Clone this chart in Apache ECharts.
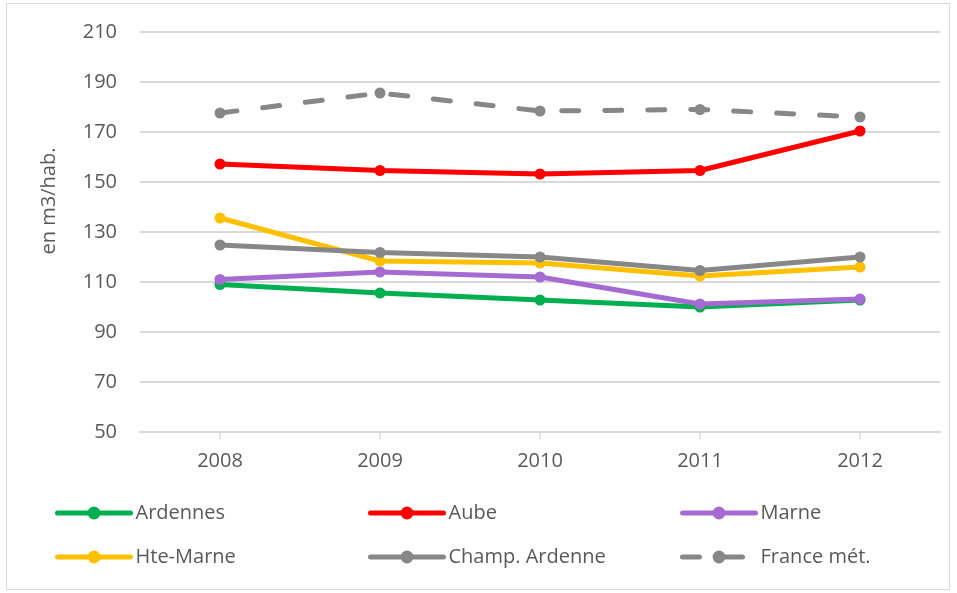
<!DOCTYPE html>
<html>
<head>
<meta charset="utf-8">
<script src="https://cdn.jsdelivr.net/npm/echarts@6/dist/echarts.min.js"></script>
<style>
  html, body { margin: 0; padding: 0; background: #fff; }
  #chart { width: 957px; height: 593px; }
  #frame { position: absolute; left: 6px; top: 3px; width: 944px; height: 587px; border: 1px solid #d9d9d9; box-sizing: border-box; pointer-events: none; }
</style>
</head>
<body>
<div id="chart"></div>
<div id="frame"></div>
<script>
var years = ['2008', '2009', '2010', '2011', '2012'];

var ardennes = [109, 105.6, 102.8, 100, 102.8];
var aube = [157.2, 154.6, 153.2, 154.6, 170.4];
var marne = [111, 114, 112, 101.2, 103.2];
var hteMarne = [135.6, 118.4, 117.6, 112.4, 116];
var champArdenne = [124.8, 121.8, 120, 114.6, 120];
var france = [177.6, 185.6, 178.4, 179, 176];

var font = '"Open Sans", Lato, sans-serif';
var textColor = '#595959';

function mkLine(name, data, color, dashed) {
    return {
        name: name,
        type: 'line',
        data: data,
        symbol: 'circle',
        symbolSize: 11,
        showSymbol: true,
        itemStyle: { color: color },
        lineStyle: {
            color: color,
            width: 5,
            type: dashed ? [17, 26] : 'solid',
            cap: 'round'
        },
        emphasis: { disabled: true },
        z: dashed ? 1 : 2
    };
}

function mkLegend(left, names) {
    return {
        orient: 'vertical',
        left: left,
        top: 495,
        itemGap: 18,
        itemWidth: 73,
        itemHeight: 16,
        selectedMode: false,
        lineStyle: { width: 5, cap: 'round' },
        textStyle: { color: textColor, fontSize: 20, fontFamily: font, lineHeight: 26 },
        data: names
    };
}

var chart = echarts.init(document.getElementById('chart'));

chart.setOption({
    animation: false,
    backgroundColor: '#fff',
    grid: { left: 140, right: 17, top: 32, bottom: 161 },
    legend: [
        mkLegend(50, ['Ardennes', 'Hte-Marne']),
        mkLegend(363, ['Aube', 'Champ. Ardenne']),
        mkLegend(675, ['Marne', 'France mét.'])
    ],
    xAxis: {
        type: 'category',
        data: years,
        boundaryGap: true,
        axisLine: { lineStyle: { color: '#d9d9d9', width: 2 } },
        axisTick: { show: true, alignWithLabel: true, length: 7, lineStyle: { color: '#d9d9d9', width: 1.5 } },
        axisLabel: { color: textColor, fontSize: 20, fontFamily: font, margin: 19 },
        splitLine: { show: false }
    },
    yAxis: {
        type: 'value',
        min: 50,
        max: 210,
        interval: 20,
        name: 'en m3/hab.',
        nameLocation: 'middle',
        nameGap: 81,
        nameRotate: 90,
        nameTextStyle: { color: textColor, fontSize: 20, fontFamily: font, padding: [0, 0, 0, 62] },
        axisLine: { show: false },
        axisTick: { show: false },
        axisLabel: { color: textColor, fontSize: 20, fontFamily: font, margin: 23 },
        splitLine: { lineStyle: { color: '#d9d9d9', width: 2 } }
    },
    series: [
        mkLine('Ardennes', ardennes, '#00B050', false),
        mkLine('Aube', aube, '#FF0000', false),
        mkLine('Marne', marne, '#A66BD3', false),
        mkLine('Hte-Marne', hteMarne, '#FFC000', false),
        mkLine('Champ. Ardenne', champArdenne, '#878787', false),
        mkLine('France mét.', france, '#878787', true)
    ]
});
</script>
</body>
</html>
